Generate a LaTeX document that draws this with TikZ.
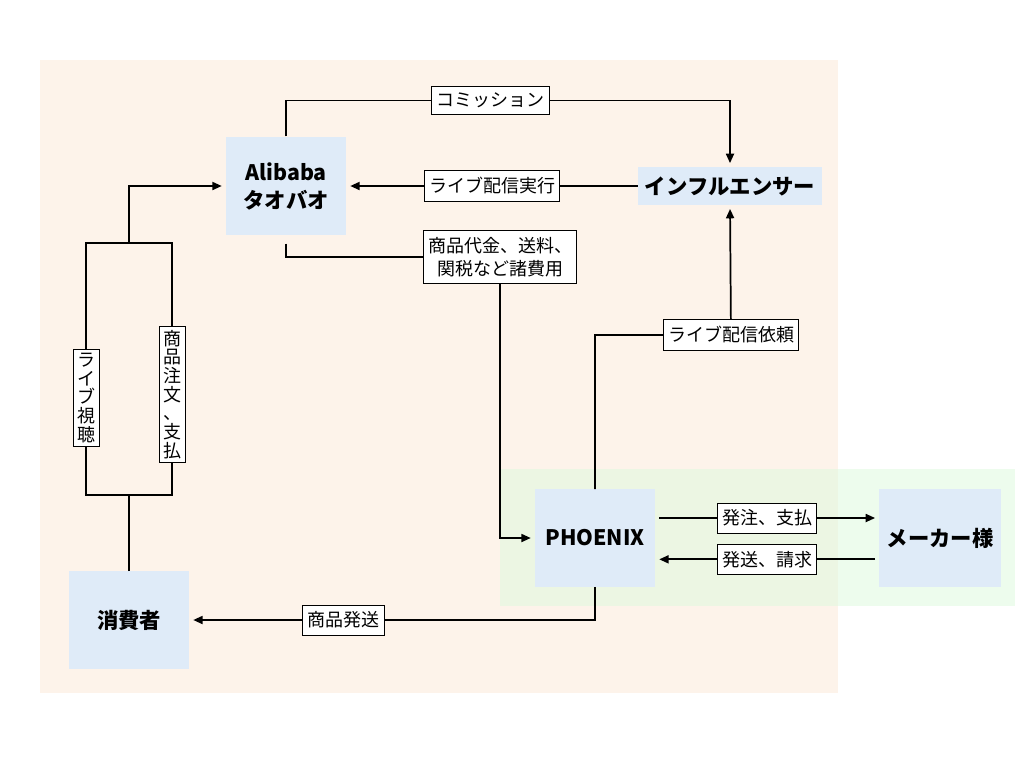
\documentclass[tikz,border=0pt]{standalone}
\usepackage{fontspec}
\setmainfont{Noto Sans CJK JP}
\usetikzlibrary{arrows.meta,positioning}
\definecolor{peach}{RGB}{253,243,234}
\definecolor{mint}{RGB}{223,249,223}
\definecolor{boxblue}{RGB}{223,235,248}
\begin{document}
\begin{tikzpicture}[x=0.75pt,y=-0.75pt,
    actor/.style={fill=boxblue,align=center,inner sep=2pt,
      font=\fontsize{16}{21}\selectfont\bfseries},
    tag/.style={draw,fill=white,line width=0.6pt,align=center,inner xsep=3.5pt,inner ysep=5pt,
      font=\fontsize{13.5}{17}\selectfont},
    vtag/.style={tag,font=\fontsize{13.5}{14}\selectfont,inner xsep=3pt,inner ysep=3pt},
    wire/.style={line width=1.3pt},
    conn/.style={wire,-{Triangle[length=7pt,width=6pt]},shorten >=3pt}]
    % Backdrop
    \useasboundingbox (0,0) rectangle (1024,768);
    \fill[peach] (40,60) rectangle (838,693);
    \fill[mint,opacity=0.55] (500,469) rectangle (1015,606);
    % Players
    \node[actor,minimum width=90pt,minimum height=74pt] (alibaba) at (286,186) {Alibaba\\タオバオ};
    \node[actor,minimum width=138pt,minimum height=28pt] (influ) at (730,186) {インフルエンサー};
    \node[actor,minimum width=90pt,minimum height=73pt] (phoenix) at (595,538) {PHOENIX};
    \node[actor,minimum width=91pt,minimum height=73pt] (maker) at (940,538) {メーカー様};
    \node[actor,minimum width=90pt,minimum height=73pt] (consumer) at (129,620) {消費者};
    % Bends
    \coordinate (feeturn) at (500,257);
    \coordinate (reqturn) at (731,335);
    \coordinate (fork) at (129,495);
    \coordinate (join) at (129,243);
    % Money and streaming
    \draw[conn] (alibaba.north) -- ++(0,-36) -| node[tag,pos=0.23]{コミッション} (influ.north);
    \draw[conn] (influ.west) -- node[tag]{ライブ配信実行} (alibaba.east);
    \draw[conn,shorten <=6pt] (alibaba.south) |- (feeturn) node[tag]{商品代金、送料、\\関税など諸費用} |- (phoenix.west);
    \draw[conn] (phoenix.north) |- (reqturn) node[tag]{ライブ配信依頼} -- (influ.south);
    % Maker
    \draw[conn,shorten <=3pt] ([yshift=15pt]phoenix.east) -- node[tag]{発注、支払} ([yshift=15pt]maker.west);
    \draw[conn,shorten <=3pt] ([yshift=-16pt]maker.west) -- node[tag]{発送、請求} ([yshift=-16pt]phoenix.east);
    % Consumer
    \draw[conn] (phoenix.south) |- node[tag,pos=0.81]{商品発送} (consumer.east);
    \draw[wire] (consumer.north) -- (fork);
    \draw[wire] (fork) -- +(-43,0) -- node[vtag,pos=0.385]{ラ\\イ\\ブ\\視\\聴} +(-43,-252) -- (join);
    \draw[wire] (fork) -- +(43,0) -- node[vtag,pos=0.4]{商\\品\\注\\文\\、\\支\\払} +(43,-252) -- (join);
    \draw[conn] (join) |- (alibaba.west);
\end{tikzpicture}
\end{document}
